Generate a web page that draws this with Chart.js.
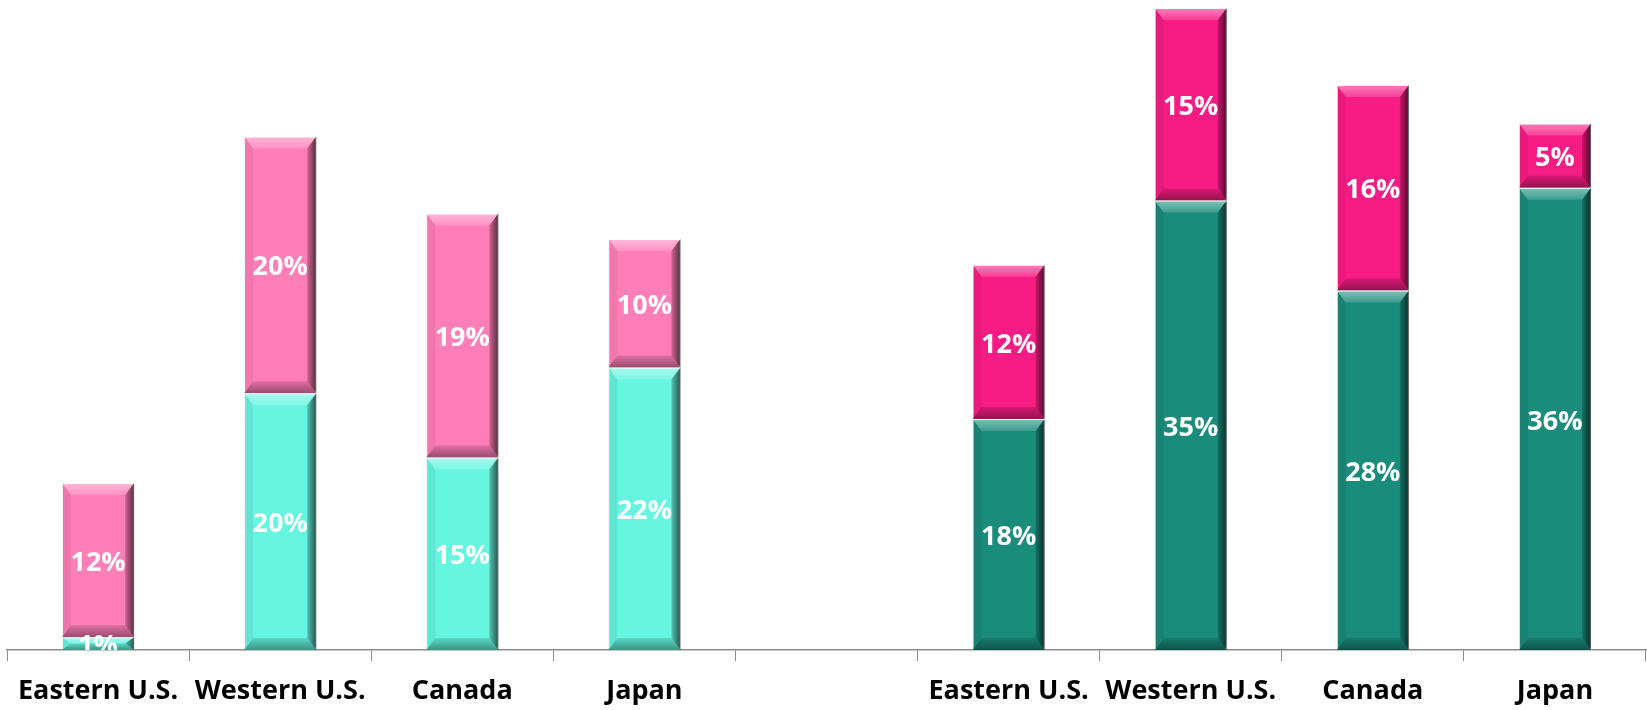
<!DOCTYPE html>
<html>
<head>
<meta charset="utf-8">
<script src="https://cdn.jsdelivr.net/npm/chart.js@4"></script>
<style>
  html, body { margin: 0; padding: 0; background: #fff; }
  #wrap { width: 1647px; height: 710px; }
</style>
</head>
<body>
<div id="wrap"><canvas id="regionChart" width="1647" height="710"></canvas></div>
<script>
// Categories (the empty slot separates the two groups)
const regions = ['Eastern U.S.', 'Western U.S.', 'Canada', 'Japan', '', 'Eastern U.S.', 'Western U.S.', 'Canada', 'Japan'];
// Lower segment values (%)
const lowerValues = [1, 20, 15, 22, null, 18, 35, 28, 36];
// Upper segment values (%)
const upperValues = [12, 20, 19, 10, null, 12, 15, 16, 5];

const lowerColors = ['#66F5E0', '#66F5E0', '#66F5E0', '#66F5E0', null, '#1A8C7C', '#1A8C7C', '#1A8C7C', '#1A8C7C'];
const upperColors = ['#FF7EB8', '#FF7EB8', '#FF7EB8', '#FF7EB8', null, '#F71C84', '#F71C84', '#F71C84', '#F71C84'];

// Bevel look on each bar segment
const bevelPlugin = {
    id: 'bevel',
    afterDatasetsDraw(chart) {
        const ctx = chart.ctx;
        chart.data.datasets.forEach((ds, i) => {
            chart.getDatasetMeta(i).data.forEach((bar, j) => {
                if (ds.data[j] == null) return;
                const l = bar.x - bar.width / 2, r = bar.x + bar.width / 2;
                const t = Math.min(bar.y, bar.base), btm = Math.max(bar.y, bar.base);
                const h = btm - t;
                const b = Math.min(12, h / 2, bar.width / 2);
                const sb = Math.min(9, bar.width / 2);
                ctx.save();
                // top facet
                const gt = ctx.createLinearGradient(0, t, 0, t + b);
                gt.addColorStop(0, 'rgba(255,255,255,0.45)');
                gt.addColorStop(1, 'rgba(255,255,255,0.15)');
                ctx.fillStyle = gt;
                ctx.beginPath();
                ctx.moveTo(l, t); ctx.lineTo(r, t); ctx.lineTo(r - sb, t + b); ctx.lineTo(l + sb, t + b); ctx.closePath();
                ctx.fill();
                // bottom facet
                const gb = ctx.createLinearGradient(0, btm - b, 0, btm);
                gb.addColorStop(0, 'rgba(0,0,0,0.12)');
                gb.addColorStop(1, 'rgba(0,0,0,0.4)');
                ctx.fillStyle = gb;
                ctx.beginPath();
                ctx.moveTo(l, btm); ctx.lineTo(r, btm); ctx.lineTo(r - sb, btm - b); ctx.lineTo(l + sb, btm - b); ctx.closePath();
                ctx.fill();
                // right facet
                const gr = ctx.createLinearGradient(r - sb, 0, r, 0);
                gr.addColorStop(0, 'rgba(0,0,0,0.2)');
                gr.addColorStop(1, 'rgba(0,0,0,0.65)');
                ctx.fillStyle = gr;
                ctx.beginPath();
                ctx.moveTo(r, t); ctx.lineTo(r, btm); ctx.lineTo(r - sb, btm - b); ctx.lineTo(r - sb, t + b); ctx.closePath();
                ctx.fill();
                // left facet
                ctx.fillStyle = 'rgba(0,0,0,0.06)';
                ctx.beginPath();
                ctx.moveTo(l, t); ctx.lineTo(l, btm); ctx.lineTo(l + sb, btm - b); ctx.lineTo(l + sb, t + b); ctx.closePath();
                ctx.fill();
                ctx.restore();
            });
        });
    }
};

// Value labels in the middle of every segment
const valueLabels = {
    id: 'valueLabels',
    afterDatasetsDraw(chart) {
        const ctx = chart.ctx;
        const area = chart.chartArea;
        ctx.save();
        ctx.beginPath();
        ctx.rect(area.left, area.top, area.right - area.left, area.bottom - area.top);
        ctx.clip();
        ctx.font = 'bold 27px "Open Sans"';
        ctx.fillStyle = '#ffffff';
        ctx.textAlign = 'center';
        ctx.textBaseline = 'middle';
        chart.data.datasets.forEach((ds, i) => {
            chart.getDatasetMeta(i).data.forEach((bar, j) => {
                if (ds.data[j] == null) return;
                ctx.fillText(ds.data[j] + '%', bar.x, (bar.y + bar.base) / 2 + 3);
            });
        });
        ctx.restore();
    }
};

new Chart(document.getElementById('regionChart').getContext('2d'), {
    type: 'bar',
    data: {
        labels: regions,
        datasets: [
            { label: 'Lower', data: lowerValues, backgroundColor: lowerColors, borderColor: 'rgba(255,255,255,0.3)', borderWidth: 1, stack: 's' },
            { label: 'Upper', data: upperValues, backgroundColor: upperColors, borderColor: 'rgba(255,255,255,0.3)', borderWidth: 1, stack: 's' }
        ]
    },
    options: {
        responsive: false,
        animation: false,
        events: [],
        layout: { padding: { left: 7, right: 1, top: 8, bottom: 0 } },
        datasets: { bar: { categoryPercentage: 1, barPercentage: 0.396 } },
        plugins: { legend: { display: false }, tooltip: { enabled: false } },
        scales: {
            x: {
                stacked: true,
                grid: { offset: true, drawOnChartArea: false, drawTicks: true, tickLength: 11, color: '#8c8c8c' },
                border: { color: '#8c8c8c', width: 1.5 },
                ticks: { color: '#000', font: { family: 'Open Sans', weight: 'bold', size: 27 }, padding: 14, maxRotation: 0, autoSkip: false },
                afterFit(scale) { scale.height = 60; }
            },
            y: { stacked: true, display: false, min: 0, max: 50 }
        }
    },
    plugins: [bevelPlugin, valueLabels]
});
</script>
</body>
</html>
